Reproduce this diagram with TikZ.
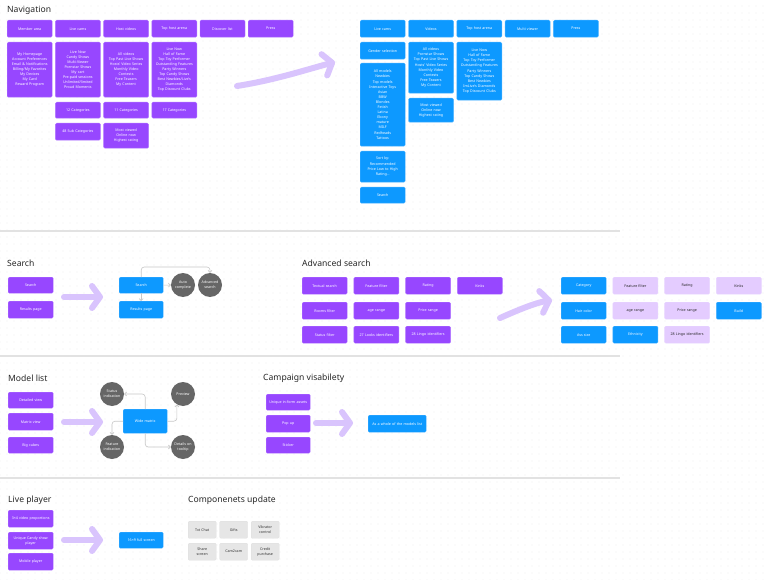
\documentclass[tikz,border=0pt]{standalone}
\usepackage{fontspec}
\setmainfont{Noto Sans}
\usetikzlibrary{arrows.meta,patterns.meta}
\definecolor{figpurple}{HTML}{9747FF}
\definecolor{figblue}{HTML}{0D99FF}
\definecolor{lilac}{HTML}{E4CCFF}
\definecolor{softlilac}{HTML}{D9C4FD}
\definecolor{bubblegray}{HTML}{666666}
\definecolor{compgray}{HTML}{E6E6E6}
\definecolor{linkgray}{HTML}{C8C8C8}
\definecolor{rulegray}{HTML}{E2E2E2}
\definecolor{dotgray}{HTML}{CFCFCF}
\newcommand{\boxfont}{\fontsize{3.6}{5.1}\selectfont}
\newcommand{\headfont}{\fontsize{8.6}{10}\selectfont}
\tikzset{sz/.style 2 args={minimum width=#1pt,minimum height=#2pt,text width=#1pt}}

\begin{document}
\begin{tikzpicture}[
  x=1pt,y=-1pt,
  every node/.style={inner sep=0pt,align=center},
  tile/.style={anchor=north west,rounded corners=1.2pt,line width=0.4pt,font=\boxfont},
  purplebox/.style={tile,fill=figpurple,draw=figpurple!75!white,text=white},
  bluebox/.style={tile,fill=figblue,draw=figblue!75!white,text=white},
  lilacbox/.style={tile,fill=lilac,draw=lilac!80!white,text=black!85},
  compbox/.style={tile,fill=compgray,draw=black!12,text=black!80},
  bubble/.style={circle,fill=bubblegray,minimum size=24pt,text width=20pt,font=\boxfont,text=white},
  heading/.style={anchor=west,font=\headfont,text=black!85},
  bigarrow/.style={draw=softlilac,line width=6pt,line cap=round,-{Straight Barb[length=8pt,width=22pt,round]}},
  link/.style={draw=linkgray,line width=0.6pt,rounded corners=3pt,-{Straight Barb[length=2pt,width=4pt]}}
]
\useasboundingbox (0,0) rectangle (768,580);
\fill[white] (0,0) rectangle (768,580);
\fill[pattern={Dots[distance=7pt,radius=0.4pt]},pattern color=dotgray] (0,0) rectangle (768,580);
\draw[rulegray,line width=1.2pt] (0,231) -- (620,231);
\draw[rulegray,line width=1.2pt] (0,356) -- (620,356);
\draw[rulegray,line width=1.2pt] (0,478) -- (620,478);

% navigation
\node[heading] (navTitle) at (7,10) {Navigation};
\foreach \lbl [count=\i from 0] in {Member area,Live cams,Host videos,Top host arena,Discover list,Press}
  \node[purplebox,sz={45}{17}] (navTop\i) at ({7+48.2*\i},20) {\lbl};
\node[purplebox,sz={45}{55}] (navMember) at (7,42) {My Homepage\\Account Preferences\\Email \& Notifications\\Billing/My Favorites\\My Devices\\My Card\\Reward Program};
\node[purplebox,sz={45}{55}] (navCams) at (55.2,42) {Live Now\\Candy Shows\\Multi-Viewer\\Pornstar Shows\\My cart\\Pre-paid sessions\\Unlimited/limited\\Proud Moments};
\node[purplebox,sz={45}{55}] (navVideos) at (103.4,42) {All videos\\Top Past Live Shows\\Hosts' Video Series\\Monthly Video\\Contests\\Free Teasers\\My Content};
\node[purplebox,sz={45}{55}] (navArena) at (151.6,42) {Live Now\\Hall of Fame\\Top Toy Performer\\Outstanding Features\\Party Winners\\Top Candy Shows\\Best Newbies/Live's\\Diamonds\\Top Discount Clubs};
\node[purplebox,sz={45}{16}] (navCatA) at (55.2,102) {12 Categories};
\node[purplebox,sz={45}{16}] (navCatB) at (103.4,102) {11 Categories};
\node[purplebox,sz={45}{16}] (navCatC) at (151.6,102) {17 Categories};
\node[purplebox,sz={45}{17}] (navSubCat) at (55.2,123) {48 Sub Categories};
\node[purplebox,sz={45}{25}] (navViewed) at (103.4,123) {Most viewed\\Online now\\Highest rating};
\coordinate (navFrom) at (237,86);
\coordinate (navTo) at (335,62);
\draw[bigarrow] (navFrom) .. controls (275,80) and (305,70) .. (navTo);
\foreach \lbl [count=\i from 0] in {Live cams,Videos,Top host arena,Multi viewer,Press}
  \node[bluebox,sz={45}{17}] (navNew\i) at ({360+48.3*\i},20) {\lbl};
\node[bluebox,sz={45}{17}] (newGender) at (360,42) {Gender selection};
\node[bluebox,sz={45}{83}] (newModels) at (360,63) {All models\\Newbies\\Top models\\Interactive Toys\\Asian\\BBW\\Blondes\\Fetish\\Latina\\Ebony\\mature\\MILF\\Redheads\\Tattoos};
\node[bluebox,sz={45}{31}] (newSort) at (360,151) {Sort by:\\Recommended\\Price Low to High\\Rating...};
\node[bluebox,sz={45}{16}] (newSearch) at (360,187) {Search};
\node[bluebox,sz={45}{51}] (newVideos) at (408.3,42) {All videos\\Pornstar Shows\\Top Past Live Shows\\Hosts' Video Series\\Monthly Video\\Contests\\Free Teasers\\My Content};
\node[bluebox,sz={45}{24}] (newViewed) at (408.3,98) {Most viewed\\Online now\\Highest rating};
\node[bluebox,sz={45}{58}] (newArena) at (456.6,42) {Live Now\\Hall of Fame\\Top Toy Performer\\Outstanding Features\\Party Winners\\Top Candy Shows\\Best Newbies\\ImLive's Diamonds\\Top Discount Clubs};

% search
\node[heading] (srchTitle) at (7,263) {Search};
\node[purplebox,sz={45}{16}] (oldSearch) at (8,277) {Search};
\node[purplebox,sz={45}{17}] (oldResults) at (8,301) {Results page};
\coordinate (srchFrom) at (64,297);
\coordinate (srchTo) at (103,297);
\draw[bigarrow] (srchFrom) -- (srchTo);
\node[bluebox,sz={44}{16}] (newSrch) at (119,277) {Search};
\node[bluebox,sz={44}{17}] (newResults) at (119,301) {Results page};
\node[bubble] (autoComp) at (183,285) {Auto\\complete};
\node[bubble] (advSrch) at (210,285) {Advanced\\search};
\draw[link] (newSrch.east) -- (autoComp.west);
\draw[link] (newSrch.north) -- ++(0,-10) -| (advSrch.north);
\draw[link] (newSrch.south) -- (newResults.north);

% advanced search
\node[heading] (advTitle) at (302,263) {Advanced search};
\foreach \lbl [count=\i from 0] in {Textual search,Feature filter,Rating,Kinks}
  \node[purplebox,sz={45}{17}] (advA\i) at ({302+51.7*\i},277) {\lbl};
\foreach \lbl [count=\i from 0] in {Rooms filter,age range,Price range}
  \node[purplebox,sz={45}{17}] (advB\i) at ({302+51.7*\i},302) {\lbl};
\foreach \lbl [count=\i from 0] in {Status filter,27 Looks identifiers,28 Lingo identifiers}
  \node[purplebox,sz={45}{17}] (advC\i) at ({302+51.7*\i},326) {\lbl};
\coordinate (advFrom) at (500,318);
\coordinate (advTo) at (552,300);
\draw[bigarrow] (advFrom) .. controls (518,310) and (535,303) .. (advTo);
\node[bluebox,sz={45}{17}] (catCategory) at (561,277) {Category};
\node[lilacbox,sz={45}{17}] (catFeature) at (612.7,277) {Feature filter};
\node[lilacbox,sz={45}{17}] (catRating) at (664.4,277) {Rating};
\node[lilacbox,sz={45}{17}] (catKinks) at (716.1,277) {Kinks};
\node[bluebox,sz={45}{17}] (catHair) at (561,302) {Hair color};
\node[lilacbox,sz={45}{17}] (catAge) at (612.7,302) {age range};
\node[lilacbox,sz={45}{17}] (catPrice) at (664.4,302) {Price range};
\node[bluebox,sz={45}{17}] (catBuild) at (716.1,302) {Build};
\node[bluebox,sz={45}{17}] (catAss) at (561,326) {Ass size};
\node[bluebox,sz={45}{17}] (catEthnic) at (612.7,326) {Ethnicity};
\node[lilacbox,sz={45}{17}] (catLingo) at (664.4,326) {28 Lingo identifiers};

% model list
\node[heading] (modelTitle) at (8,378) {Model list};
\node[purplebox,sz={45}{16}] (modDetail) at (8,392) {Detailed view};
\node[purplebox,sz={45}{17}] (modMatrix) at (8,413) {Matrix view};
\node[purplebox,sz={45}{16}] (modCubes) at (8,437) {Big cubes};
\coordinate (modFrom) at (64,422);
\coordinate (modTo) at (103,422);
\draw[bigarrow] (modFrom) -- (modTo);
\node[bluebox,sz={44}{24}] (wideMatrix) at (123,409) {Wide matrix};
\node[bubble] (statusInd) at (112,394) {Status\\indication};
\node[bubble] (preview) at (183,394) {Preview};
\node[bubble] (featInd) at (112,447) {Feature\\indication};
\node[bubble] (details) at (183,447) {Details on\\tooltip};
\draw[link] (wideMatrix.north) |- (statusInd.east);
\draw[link] (wideMatrix.east) -| (preview.240);
\draw[link] (wideMatrix.west) -| (featInd.north);
\draw[link] (wideMatrix.south) |- (details.west);

% campaign
\node[heading] (campTitle) at (263,378) {Campaign visabilety};
\node[purplebox,sz={44}{16}] (campUnique) at (266,394) {Unique in-form assets};
\node[purplebox,sz={44}{17}] (campPopup) at (266,415) {Pop up};
\node[purplebox,sz={44}{16}] (campSticker) at (266,437) {Sticker};
\coordinate (campFrom) at (316,423);
\coordinate (campTo) at (353,423);
\draw[bigarrow] (campFrom) -- (campTo);
\node[bluebox,sz={58}{17}] (campWhole) at (368,415) {As a whole of the models list};

% live player
\node[heading] (liveTitle) at (8,500) {Live player};
\node[purplebox,sz={45}{17}] (liveRatio) at (8,510) {3×4 video proportions};
\node[purplebox,sz={45}{17}] (liveCandy) at (8,532) {Unique Candy show\\player};
\node[purplebox,sz={45}{17}] (liveMobile) at (8,553) {Mobile player};
\coordinate (liveFrom) at (64,540);
\coordinate (liveTo) at (103,540);
\draw[bigarrow] (liveFrom) -- (liveTo);
\node[bluebox,sz={44}{16}] (liveFull) at (119,532) {16×9 full screen};

% components
\node[heading] (compTitle) at (188,500) {Componenets update};
\foreach \lbl [count=\i from 0] in {Txt Chat,Gifts,{Vibrator\\control}}
  \node[compbox,sz={28}{17}] (compA\i) at ({188+31.5*\i},521) {\lbl};
\foreach \lbl [count=\i from 0] in {{Share\\screen},Cam2cam,{Credit\\purchase}}
  \node[compbox,sz={28}{17}] (compB\i) at ({188+31.5*\i},543) {\lbl};
\end{tikzpicture}
\end{document}
